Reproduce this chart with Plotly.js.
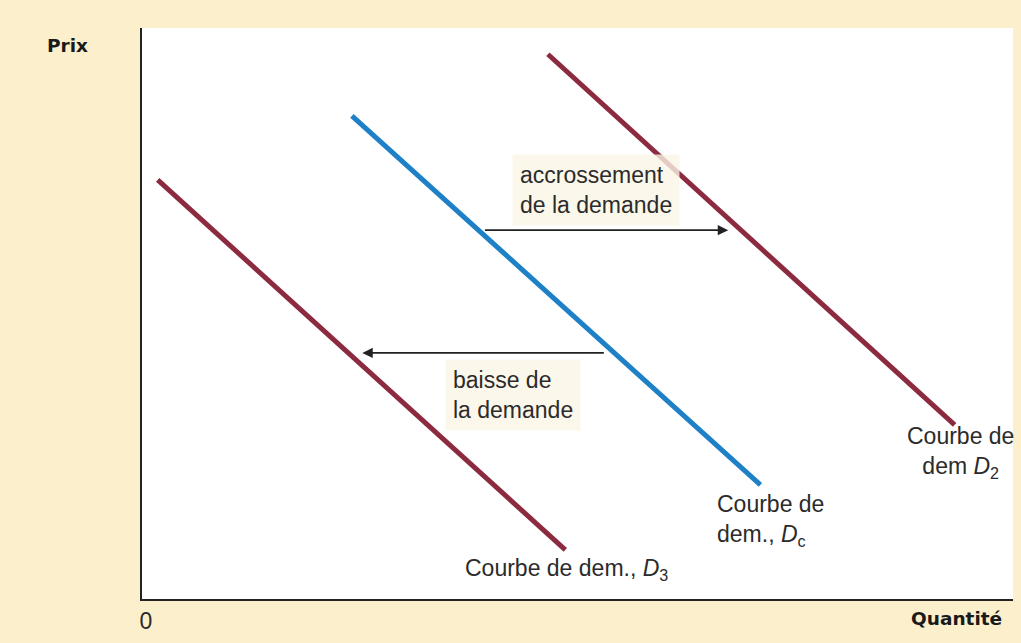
<!DOCTYPE html>
<html>
<head>
<meta charset="utf-8">
<script src="https://cdn.plot.ly/plotly-3.0.1.min.js"></script>
<style>html,body{margin:0;padding:0;background:#fcefcc;}#chart{width:1021px;height:643px;}</style>
</head>
<body>
<div id="chart"></div>
<script>
// Demand curves (quantity, price) endpoints
const d3X = [0.18, 4.86];
const d3Y = [7.34, 0.86];
const dcX = [2.41, 7.10];
const dcY = [8.46, 2.00];
const d2X = [4.66, 9.33];
const d2Y = [9.54, 3.05];

// Shift arrows: [tail x, head x], y level
const incArrowX = [3.92, 6.73];
const incArrowY = 6.46;
const decArrowX = [5.32, 2.53];
const decArrowY = 4.31;

const xTickVals = [0];
const xTickText = ['0'];

const labels = {
  inc: 'accrossement<br>de la demande',
  dec: 'baisse de<br>la demande',
  dc: 'Courbe de<br>dem., <i>D</i><sub>c</sub>',
  d3: 'Courbe de dem., <i>D</i><sub>3</sub>',
  d2: 'Courbe de<br>dem <i>D</i><sub>2</sub>',
  yTitle: 'Prix',
  xTitle: 'Quantité'
};

const maroon = '#8c2b40';
const blue = '#1e80c6';
const txt = '#2b2b2b';
const fnt = 'Liberation Sans, Arial, sans-serif';
const fs = 23;

const traces = [
  {x: d3X, y: d3Y, mode: 'lines', line: {color: maroon, width: 5}, hoverinfo: 'skip'},
  {x: dcX, y: dcY, mode: 'lines', line: {color: blue, width: 5}, hoverinfo: 'skip'},
  {x: d2X, y: d2Y, mode: 'lines', line: {color: maroon, width: 5}, hoverinfo: 'skip'}
];

const annotations = [
  {x: incArrowX[1], y: incArrowY, ax: incArrowX[0], ay: incArrowY, axref: 'x', ayref: 'y', xref: 'x', yref: 'y',
   text: '', showarrow: true, arrowhead: 2, arrowsize: 1.3, arrowwidth: 1.6, arrowcolor: '#222'},
  {x: decArrowX[1], y: decArrowY, ax: decArrowX[0], ay: decArrowY, axref: 'x', ayref: 'y', xref: 'x', yref: 'y',
   text: '', showarrow: true, arrowhead: 2, arrowsize: 1.3, arrowwidth: 1.6, arrowcolor: '#222'},
  {x: 4.25, y: 7.16, xref: 'x', yref: 'y', xanchor: 'left', yanchor: 'middle', align: 'left', showarrow: false,
   text: labels.inc, font: {family: fnt, size: fs, color: txt}, bgcolor: 'rgba(250,245,230,0.8)', borderpad: 7},
  {x: 3.48, y: 3.57, xref: 'x', yref: 'y', xanchor: 'left', yanchor: 'middle', align: 'left', showarrow: false,
   text: labels.dec, font: {family: fnt, size: fs, color: txt}, bgcolor: 'rgba(250,245,230,0.8)', borderpad: 7},
  {x: 6.58, y: 1.38, xref: 'x', yref: 'y', xanchor: 'left', yanchor: 'middle', align: 'left', showarrow: false,
   text: labels.dc, font: {family: fnt, size: fs, color: txt}},
  {x: 3.69, y: 0.52, xref: 'x', yref: 'y', xanchor: 'left', yanchor: 'middle', align: 'left', showarrow: false,
   text: labels.d3, font: {family: fnt, size: fs, color: txt}},
  {x: 9.40, y: 2.56, xref: 'x', yref: 'y', xanchor: 'center', yanchor: 'middle', align: 'center', showarrow: false,
   text: labels.d2, font: {family: fnt, size: fs, color: txt}},
  {x: -0.085, y: 0.97, xref: 'paper', yref: 'paper', xanchor: 'center', yanchor: 'middle', showarrow: false,
   text: '<b>' + labels.yTitle + '</b>', font: {family: 'DejaVu Sans, sans-serif', size: 18.5, color: '#1a1a1a'}},
  {x: 0.99, y: -0.035, xref: 'paper', yref: 'paper', xanchor: 'right', yanchor: 'middle', showarrow: false,
   text: '<b>' + labels.xTitle + '</b>', font: {family: 'DejaVu Sans, sans-serif', size: 18.5, color: '#1a1a1a'}}
];

const layout = {
  width: 1021, height: 643,
  margin: {l: 142, r: 8, t: 28, b: 44, pad: 0},
  paper_bgcolor: '#fcefcc',
  plot_bgcolor: '#ffffff',
  showlegend: false,
  xaxis: {range: [0, 10], showgrid: false, zeroline: false, showline: true, linecolor: '#222', linewidth: 2,
          tickmode: 'array', tickvals: xTickVals, ticktext: xTickText, ticks: '', ticklabelshift: 4,
          tickfont: {family: fnt, size: 23, color: txt}, fixedrange: true},
  yaxis: {range: [0, 10], showgrid: false, zeroline: false, showline: true, linecolor: '#222', linewidth: 2,
          showticklabels: false, ticks: '', fixedrange: true},
  annotations: annotations
};

Plotly.newPlot('chart', traces, layout, {displayModeBar: false, staticPlot: true});
</script>
</body>
</html>
